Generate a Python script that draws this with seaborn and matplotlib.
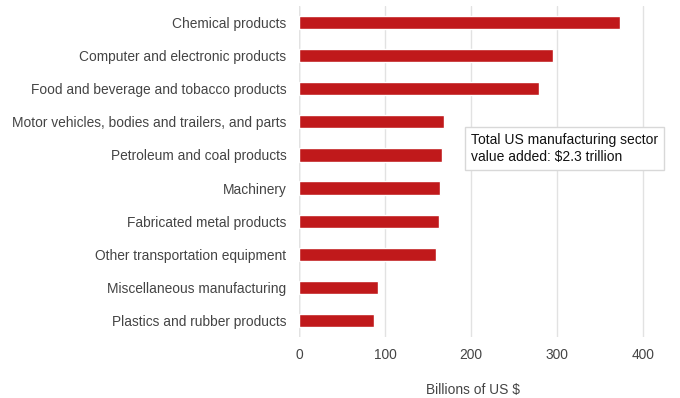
import matplotlib
matplotlib.use("Agg")
import matplotlib.pyplot as plt
import seaborn as sns
import pandas as pd

# Value added by industry, billions of US $
industries = [
    "Chemical products",
    "Computer and electronic products",
    "Food and beverage and tobacco products",
    "Motor vehicles, bodies and trailers, and parts",
    "Petroleum and coal products",
    "Machinery",
    "Fabricated metal products",
    "Other transportation equipment",
    "Miscellaneous manufacturing",
    "Plastics and rubber products",
]
values = [374, 296, 279, 169, 166, 164, 163, 159, 92, 87]
x_ticks = [0, 100, 200, 300, 400]

df = pd.DataFrame({"industry": industries, "value": values})

sns.set_style("white")
plt.rcParams["font.family"] = ["Liberation Sans", "DejaVu Sans"]

fig = plt.figure(figsize=(6.8, 3.98), dpi=100)
ax = fig.add_axes([0.4397, 0.1533, 0.5118, 0.8317])

sns.barplot(data=df, y="industry", x="value", orient="h", color="#c0191b",
            width=0.4, saturation=1, ax=ax)

ax.set_xlim(0, 405)
ax.set_xticks(x_ticks)
ax.grid(axis="x", color="#e2e2e2", linewidth=1)
ax.set_axisbelow(True)
ax.axvline(0, color="#cccccc", linewidth=1, zorder=0.5)
for s in ax.spines.values():
    s.set_visible(False)

ax.tick_params(axis="y", length=0, pad=9, labelsize=9.9, labelcolor="#444444")
ax.tick_params(axis="x", length=0, pad=8, labelsize=9.9, labelcolor="#444444")
ax.set_ylabel("")
ax.set_xlabel("Billions of US $", fontsize=9.9, color="#444444", labelpad=15)

# Annotation box
fig.text(0.6925, 0.627, "Total US manufacturing sector\nvalue added: $2.3 trillion",
         fontsize=10, color="#111111", va="center", ha="left", linespacing=1.3,
         bbox=dict(boxstyle="square,pad=0.45", facecolor="white", edgecolor="#d8d8d8", linewidth=1))

fig.savefig("out.png", dpi=100)
